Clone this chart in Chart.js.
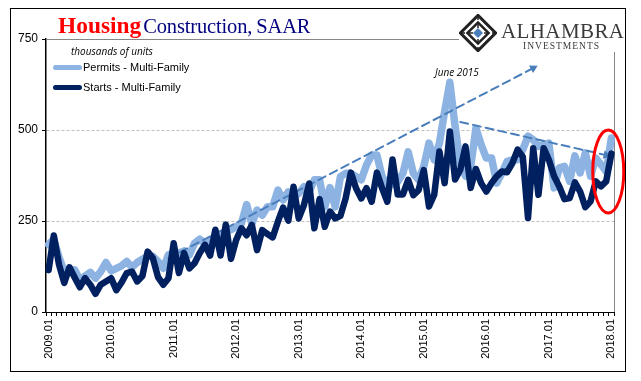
<!DOCTYPE html>
<html>
<head>
<meta charset="utf-8">
<title>Housing Construction, SAAR</title>
<script src="https://cdn.jsdelivr.net/npm/chart.js@4"></script>
<style>
    html, body { margin: 0; padding: 0; background: #fff; }
    #wrap { position: relative; width: 641px; height: 381px; overflow: hidden; }
    #myChart { position: absolute; left: 0; top: 0; }
    #frame { position: absolute; left: 10px; top: 8px; width: 614px; height: 362px; border: 1px solid #000; pointer-events: none; }
    .txt { position: absolute; white-space: nowrap; }
    #title { left: 58px; top: 12px; font: 20.5px "Liberation Serif", serif; color: #000080; letter-spacing: -0.15px; word-spacing: -1px; }
    #title b { color: #ff0000; font-size: 23.4px; letter-spacing: 0; margin-right: -2px; }
    .unit { font: italic 10px "Open Sans", sans-serif; color: #000; }
    .leg { font: 11px "Liberation Sans", sans-serif; color: #000; }
    .swatch { position: absolute; left: 53px; width: 29px; border-radius: 3px; }
    #logoBg { position: absolute; left: 459px; top: 10px; width: 165px; height: 42px; background: #fff; }
    #logo { position: absolute; left: 459px; top: 14px; }
    #brand { left: 501px; top: 19px; font: 21px "Liberation Serif", serif; color: #3a3a3a; letter-spacing: 0.4px; }
    #brand2 { left: 523px; top: 41px; font: 9.5px "Liberation Serif", serif; color: #3a3a3a; letter-spacing: 1px; }
</style>
</head>
<body>
<div id="wrap">
    <canvas id="myChart" width="641" height="381"></canvas>
    <div id="logoBg"></div>
    <svg id="logo" width="38" height="38" viewBox="-19 -19 38 38">
        <rect x="-12.5" y="-12.5" width="25" height="25" transform="rotate(45)" fill="none" stroke="#222" stroke-width="3"/>
        <rect x="-7.5" y="-7.5" width="15" height="15" transform="rotate(45)" fill="none" stroke="#222" stroke-width="2.5"/>
        <path d="M-18 0H18M0 -18V18" stroke="#222" stroke-width="1.5" stroke-dasharray="5 3"/>
        <rect x="-3.5" y="-3.5" width="7" height="7" transform="rotate(45)" fill="#4a7ebb"/>
    </svg>
    <div class="txt" id="brand">ALHAMBRA</div>
    <div class="txt" id="brand2">INVESTMENTS</div>
    <div class="txt" id="title"><b>Housing</b> Construction, SAAR</div>
    <div class="txt unit" style="left:71px;top:44px">thousands of units</div>
    <div class="swatch" style="top:65px;height:5px;background:#8db3e2"></div>
    <div class="txt leg" style="left:83px;top:61px">Permits - Multi-Family</div>
    <div class="swatch" style="top:85px;height:5px;background:#002060"></div>
    <div class="txt leg" style="left:83px;top:81px">Starts - Multi-Family</div>
    <div class="txt unit" style="left:435px;top:65px">June 2015</div>
    <div id="frame"></div>
</div>
<script>
// Monate 2009.01 - 2018.01
const years = [2009, 2010, 2011, 2012, 2013, 2014, 2015, 2016, 2017, 2018];
const months = ['01', '02', '03', '04', '05', '06', '07', '08', '09', '10', '11', '12'];
const categories = [];
years.forEach(y => months.forEach(m => { if (y < 2018 || m === '01') categories.push(y + '.' + m); }));

const permits = [
    185, 200, 150, 111, 116, 116, 88, 99, 109, 93, 111, 136,
    113, 120, 127, 139, 123, 136, 145, 153, 153, 139, 120, 157,
    162, 162, 168, 157, 189, 200, 189, 198, 203, 212, 221, 226,
    235, 243, 295, 243, 280, 266, 289, 289, 335, 308, 330, 317,
    326, 344, 330, 363, 363, 289, 342, 289, 372, 381, 381, 372,
    363, 404, 431, 431, 372, 349, 350, 358, 381, 440, 381, 363,
    400, 464, 418, 464, 551, 631, 510, 409, 373, 400, 505, 460,
    423, 423, 354, 382, 414, 418, 418, 446, 483, 473, 455, 460,
    464, 341, 396, 400, 359, 429, 382, 437, 373, 423, 405, 386,
    478
];
const starts = [
    115, 210, 130, 80, 123, 95, 68, 93, 75, 50, 75, 84,
    93, 60, 81, 107, 111, 84, 99, 166, 148, 96, 75, 93,
    189, 107, 162, 120, 134, 162, 185, 155, 226, 155, 240, 146,
    198, 230, 211, 239, 170, 225, 214, 205, 248, 287, 251, 344,
    257, 294, 353, 230, 310, 234, 276, 257, 264, 312, 383, 340,
    312, 340, 303, 383, 340, 303, 419, 323, 323, 363, 321, 335,
    390, 290, 322, 441, 354, 496, 364, 391, 455, 341, 393, 354,
    331, 354, 373, 386, 384, 409, 446, 426, 258, 450, 322, 450,
    418, 373, 345, 310, 313, 356, 331, 288, 304, 359, 345, 359,
    435
];
const yTicks = [0, 250, 500, 750];

// Trendpfeile
const trendUp = [{ x: '2010.12', y: 148 }, { x: '2016.10', y: 670 }];
const trendDown = [{ x: '2015.08', y: 522 }, { x: '2017.12', y: 431 }];
// roter Kreis um die letzten Monate (x = Monatsindex)
const circleAt = { x: 107.4, y: 386, rx: 15.5, ry: 41.5 };

const arrowColor = '#4a7ebb';

function trendSet(points, angle) {
    return {
        data: points,
        borderColor: arrowColor,
        backgroundColor: arrowColor,
        borderWidth: 2,
        borderDash: [8, 5],
        pointStyle: 'triangle',
        pointRotation: angle,
        pointBorderWidth: 0,
        pointRadius: ctx => ctx.dataIndex === 1 ? 5 : 0,
        order: 2
    };
}

const extras = {
    id: 'extras',
    beforeDatasetsDraw(chart) {
        // obere Linie und rechte Achse sind grau
        const { ctx, chartArea: a } = chart;
        ctx.save();
        ctx.strokeStyle = '#868686';
        ctx.beginPath();
        ctx.moveTo(a.left, a.top + 0.5);
        ctx.lineTo(a.right, a.top + 0.5);
        ctx.moveTo(a.right + 0.5, a.top);
        ctx.lineTo(a.right + 0.5, a.bottom);
        ctx.stroke();
        ctx.restore();
    },
    afterDatasetsDraw(chart) {
        const { ctx, scales } = chart;
        ctx.save();
        ctx.strokeStyle = '#ff0000';
        ctx.lineWidth = 3;
        ctx.beginPath();
        ctx.ellipse(scales.x.getPixelForValue(circleAt.x), scales.y.getPixelForValue(circleAt.y),
            circleAt.rx, circleAt.ry, 0, 0, Math.PI * 2);
        ctx.stroke();
        ctx.restore();
    }
};

const config = {
    type: 'line',
    data: {
        labels: categories,
        datasets: [
            { label: 'Permits - Multi-Family', data: permits, borderColor: '#8db3e2', borderWidth: 7.5, order: 3 },
            trendSet(trendUp, 62),
            trendSet(trendDown, 103),
            { label: 'Starts - Multi-Family', data: starts, borderColor: '#002060', borderWidth: 6.5, order: 1 }
        ]
    },
    options: {
        responsive: false,
        animation: false,
        layout: { padding: { left: 0, right: 27, top: 39, bottom: 0 } },
        elements: {
            point: { radius: 0 },
            line: { tension: 0, borderCapStyle: 'round', borderJoinStyle: 'round' }
        },
        plugins: { legend: { display: false }, tooltip: { enabled: false } },
        scales: {
            x: {
                type: 'category',
                offset: true,
                afterFit: s => { s.height = 69; },
                grid: { offset: true, drawOnChartArea: false, color: '#000', tickLength: 4 },
                border: { color: '#000', width: 1 },
                ticks: {
                    autoSkip: false,
                    minRotation: 90,
                    maxRotation: 90,
                    padding: 3,
                    color: '#000',
                    font: { family: '"Liberation Sans Narrow", "Liberation Sans"', size: 11 },
                    callback(v) {
                        const l = this.getLabelForValue(v);
                        return l.endsWith('.01') ? l : '';
                    }
                }
            },
            y: {
                min: 0,
                max: 750,
                afterFit: s => { s.width = 46; },
                afterBuildTicks: s => { s.ticks = yTicks.map(v => ({ value: v })); },
                grid: {
                    color: c => (c.tick.value === 250 || c.tick.value === 500) ? '#c0c0c0' : 'rgba(0,0,0,0)',
                    tickColor: '#000',
                    tickLength: 4
                },
                border: { color: '#000', width: 1.5, dash: [3, 2] },
                ticks: {
                    padding: 4,
                    color: '#000',
                    font: { family: '"Liberation Sans Narrow", "Liberation Sans"', size: 12 }
                }
            }
        }
    },
    plugins: [extras]
};

new Chart(document.querySelector('#myChart').getContext('2d'), config);
</script>
</body>
</html>
